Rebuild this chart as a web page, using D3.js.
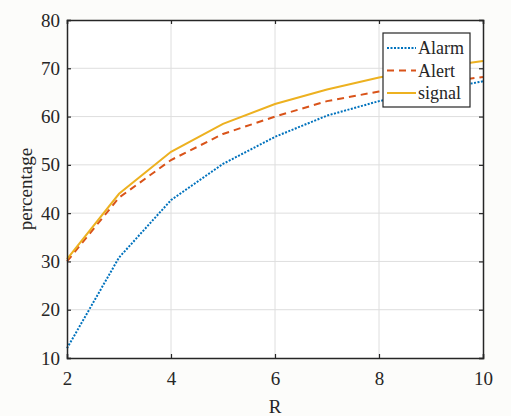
<!DOCTYPE html>
<html>
<head>
<meta charset="utf-8">
<script src="https://cdn.jsdelivr.net/npm/d3@7"></script>
<style>
  body { margin: 0; background: #fcfcfa; }
  svg text { font-family: "Liberation Serif", "Times New Roman", serif; fill: #262626; }
</style>
</head>
<body>
<svg id="mainsvg" width="511" height="416"></svg>
<script>
const R = [2, 3, 4, 5, 6, 7, 8, 9, 10]
const alarm = [12, 30.8, 42.7, 50.2, 55.8, 60.2, 63.2, 65.3, 67.3]
const alert = [30, 43.2, 51, 56.4, 60, 63.2, 65.2, 66.8, 68.2]
const signal = [30.5, 44, 52.7, 58.5, 62.6, 65.6, 68.1, 70, 71.5]
const xTicks = [2, 4, 6, 8, 10]
const yTicks = [10, 20, 30, 40, 50, 60, 70, 80]
const seriesNames = ["Alarm", "Alert", "signal"]

const SERIF = "'Liberation Serif', 'Times New Roman', serif"
const MARGIN = { left: 67, top: 20, right: 28, bottom: 58 }
const WIDTH = 511 - MARGIN.left - MARGIN.right
const HEIGHT = 416 - MARGIN.top - MARGIN.bottom

const svg = d3.select("#mainsvg")
const g = svg.append("g").attr("transform", `translate(${MARGIN.left}, ${MARGIN.top})`)

const x = d3.scaleLinear().domain([2, 10]).range([0, WIDTH])
const y = d3.scaleLinear().domain([10, 80]).range([HEIGHT, 0])

g.append("rect").attr("width", WIDTH).attr("height", HEIGHT).attr("fill", "#ffffff")

// grid
g.selectAll(".gx").data(xTicks.slice(1, -1)).enter().append("line")
  .attr("x1", d => x(d)).attr("x2", d => x(d)).attr("y1", 0).attr("y2", HEIGHT)
  .attr("stroke", "#dedede").attr("stroke-width", 1)
g.selectAll(".gy").data(yTicks.slice(1, -1)).enter().append("line")
  .attr("y1", d => y(d)).attr("y2", d => y(d)).attr("x1", 0).attr("x2", WIDTH)
  .attr("stroke", "#dedede").attr("stroke-width", 1)

// series
const series = [
  { name: seriesNames[0], values: alarm, color: "#0072BD", dash: "2,1.5" },
  { name: seriesNames[1], values: alert, color: "#D95319", dash: "7,5" },
  { name: seriesNames[2], values: signal, color: "#EDB120", dash: null }
]
const line = d3.line().x((d, i) => x(R[i])).y(d => y(d))
series.forEach(s => {
  g.append("path")
    .attr("d", line(s.values))
    .attr("fill", "none")
    .attr("stroke", s.color)
    .attr("stroke-width", 2)
    .attr("stroke-dasharray", s.dash)
})

// axes with inward ticks
const xAxis = g.append("g").attr("transform", `translate(0, ${HEIGHT})`)
  .call(d3.axisBottom(x).tickValues(xTicks).tickSize(-4).tickPadding(14))
const xTop = g.append("g").call(d3.axisTop(x).tickValues(xTicks).tickSize(-4).tickFormat(""))
const yAxis = g.append("g").call(d3.axisLeft(y).tickValues(yTicks).tickSize(-4).tickPadding(7))
const yRight = g.append("g").attr("transform", `translate(${WIDTH}, 0)`)
  .call(d3.axisRight(y).tickValues(yTicks).tickSize(-4).tickFormat(""))

;[xAxis, xTop, yAxis, yRight].forEach(a => {
  a.attr("font-family", SERIF).attr("font-size", 19)
  a.select(".domain").attr("stroke", "#262626").attr("stroke-width", 1.5)
  a.selectAll(".tick line").attr("stroke", "#262626").attr("stroke-width", 1.2)
  a.selectAll("text").attr("fill", "#262626")
})

// axis labels
svg.append("text").attr("x", MARGIN.left + WIDTH / 2).attr("y", 413)
  .attr("text-anchor", "middle").attr("font-size", 19).text("R")
svg.append("text").attr("transform", `translate(32, ${MARGIN.top + HEIGHT / 2}) rotate(-90)`)
  .attr("text-anchor", "middle").attr("font-size", 19).text("percentage")

// legend
const lg = svg.append("g").attr("transform", "translate(383, 33)")
lg.append("rect").attr("width", 87).attr("height", 74)
  .attr("fill", "#ffffff").attr("stroke", "#262626").attr("stroke-width", 1.2)
series.forEach((s, i) => {
  const yy = 15 + i * 22.5
  lg.append("line").attr("x1", 4).attr("x2", 33).attr("y1", yy).attr("y2", yy)
    .attr("stroke", s.color).attr("stroke-width", 2).attr("stroke-dasharray", s.dash)
  lg.append("text").attr("x", 35).attr("y", yy + 6).attr("font-size", 18).text(s.name)
})
</script>
</body>
</html>
